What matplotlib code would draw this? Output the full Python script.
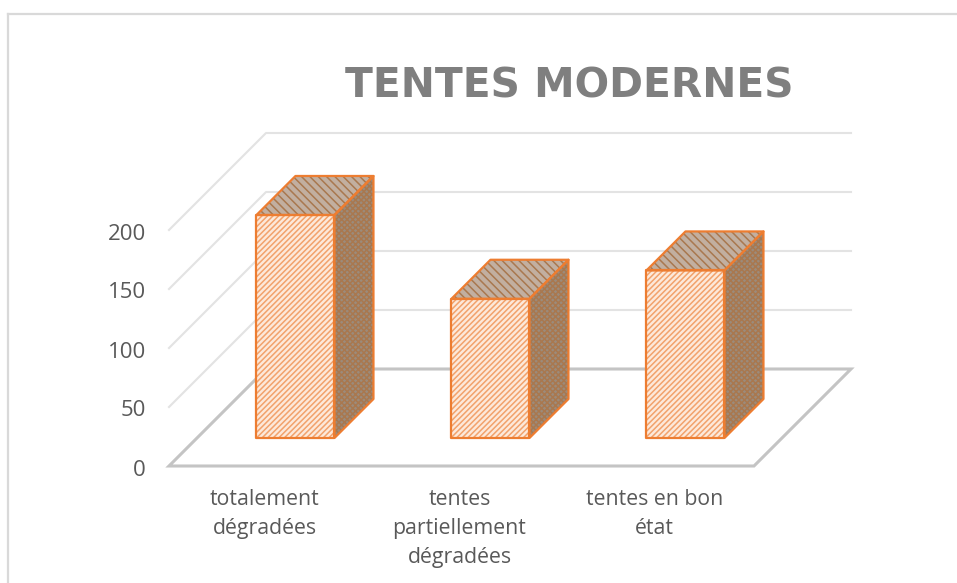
import numpy as np
import matplotlib
matplotlib.use('Agg')
import matplotlib.pyplot as plt
from matplotlib.patches import Polygon

categories = ['totalement\ndégradées', 'tentes\npartiellement\ndégradées', 'tentes en bon\nétat']
values = [189, 118, 142]
yticks = [0, 50, 100, 150, 200]
title = 'TENTES MODERNES'

W, H = 957, 583
X0, Y0 = 169, 466      # front left corner of the floor, pixels
UNIT_X = 195.0         # pixels per category
UNIT_Y = 59 / 50.0     # pixels per value unit
DEPTH = 97             # floor depth, pixels (goes up and right at 45 deg)
BAR_W = 0.4
BAR_D0, BAR_D1 = 28, 67

plt.rcParams['font.family'] = ['Open Sans', 'DejaVu Sans']
plt.rcParams['hatch.linewidth'] = 1.1

GRID = '#e3e3e3'
FLOOR = '#c4c4c4'
TEXT = '#595959'
ORANGE = '#ed7d31'


def pt(x, v, d=0):
    # category position, value and depth (pixels) to data coordinates
    return (x + d / UNIT_X, v + d / UNIT_Y)


def main():
    fig = plt.figure(figsize=(W / 100, H / 100), dpi=100)
    ax = fig.add_axes([0, 0, 1, 1])
    ax.set_xlim(-X0 / UNIT_X, (W - X0) / UNIT_X)
    ax.set_ylim(-(H - Y0) / UNIT_Y, Y0 / UNIT_Y)
    ax.axis('off')

    n = len(categories)

    # chart frame, in pixels of the figure
    for xs, ys in [([8, 8], [14, 583]), ([8, 957], [14, 14])]:
        fig.add_artist(plt.Line2D(np.array(xs) / W, 1 - np.array(ys) / H, color='#d9d9d9', lw=1.6))

    # gridlines on side and back wall
    for t in yticks[1:]:
        a, b, c = pt(0, t), pt(0, t, DEPTH), pt(n, t, DEPTH)
        ax.plot([a[0], b[0], c[0]], [a[1], b[1], c[1]], color=GRID, lw=1.5, zorder=1)

    # floor
    floor = [pt(0, 0), pt(n, 0), pt(n, 0, DEPTH), pt(0, 0, DEPTH)]
    ax.add_patch(Polygon(floor, closed=True, fill=False, edgecolor=FLOOR, lw=2.2, zorder=2))

    # bars
    for i, v in enumerate(values):
        x0 = i + 0.505 - BAR_W / 2
        x1 = i + 0.505 + BAR_W / 2
        front = [pt(x0, 0, BAR_D0), pt(x1, 0, BAR_D0), pt(x1, v, BAR_D0), pt(x0, v, BAR_D0)]
        side = [pt(x1, 0, BAR_D0), pt(x1, 0, BAR_D1), pt(x1, v, BAR_D1), pt(x1, v, BAR_D0)]
        top = [pt(x0, v, BAR_D0), pt(x1, v, BAR_D0), pt(x1, v, BAR_D1), pt(x0, v, BAR_D1)]
        ax.add_patch(Polygon(front, closed=True, facecolor='#fde9da', edgecolor='#f2a26c', hatch='//////', lw=0, zorder=3))
        ax.add_patch(Polygon(side, closed=True, facecolor='#9c8b7b', edgecolor='#a9784f', hatch='xxxxxx', lw=0, zorder=3))
        ax.add_patch(Polygon(top, closed=True, facecolor='#c2afa0', edgecolor='#a9784f', hatch='\\\\\\\\', lw=0, zorder=3))
        for face in (side, top, front):
            ax.add_patch(Polygon(face, closed=True, fill=False, edgecolor=ORANGE, lw=1.6, zorder=4, joinstyle='round'))

    # tick labels
    for t in yticks:
        x, y = pt(0, t)
        ax.text(x - 23 / UNIT_X, y - 4 / UNIT_Y, str(t), ha='right', va='center', fontsize=16, color=TEXT)
    for i, c in enumerate(categories):
        x, y = pt(i + 0.5, 0)
        ax.text(x - 2 / UNIT_X, y - 23 / UNIT_Y, c, ha='center', va='top', fontsize=15.3, color=TEXT, linespacing=1.5)

    ax.text((569 - X0) / UNIT_X, (Y0 - 87) / UNIT_Y, title, ha='center', va='center',
            fontsize=29.3, fontweight='bold', color='#7f7f7f', family='DejaVu Sans')

    fig.savefig('out.png', dpi=100)
    plt.close(fig)


if __name__ == "__main__":
    main()
